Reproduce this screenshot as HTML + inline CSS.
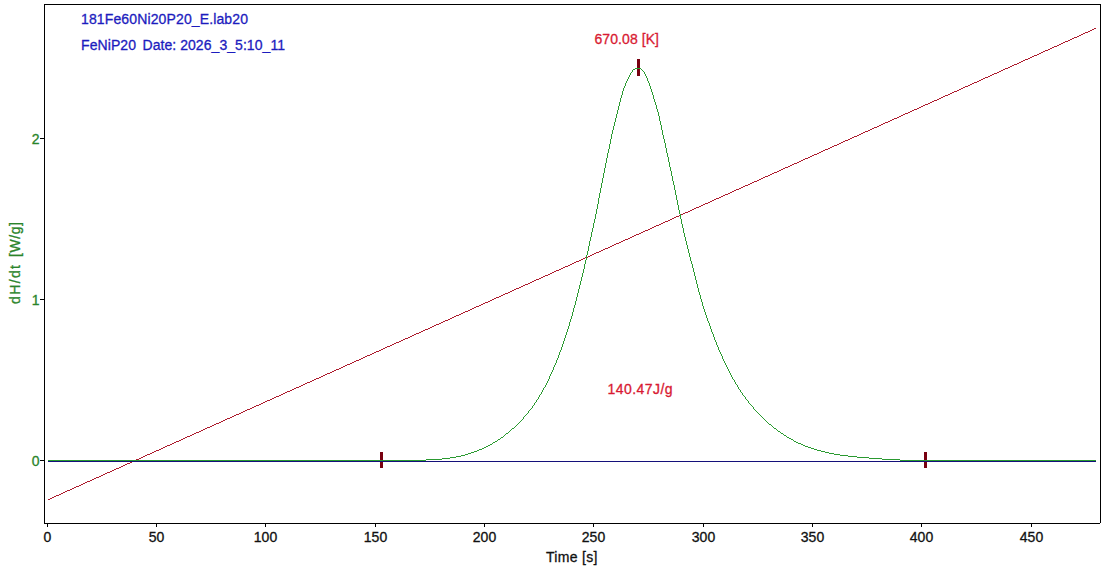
<!DOCTYPE html>
<html><head><meta charset="utf-8"><title>DSC</title>
<style>
html,body{margin:0;padding:0;background:#fff;overflow:hidden}
svg{display:block}
text{font-family:"Liberation Sans",sans-serif;font-size:14px;stroke-width:0.3px;paint-order:stroke}
</style></head><body>
<svg width="1104" height="568" viewBox="0 0 1104 568">
<rect width="1104" height="568" fill="#fff"/>
<g stroke="#000" stroke-width="1" shape-rendering="crispEdges" fill="none">
<path d="M44 4h1057v1h-1057zM44 5h1v519h-1zM45 523h1055v1h-1055zM1100 5h1v518h-1z" fill="#000" stroke="none"/>
<line x1="47.5" y1="523" x2="47.5" y2="527"/><line x1="156.5" y1="523" x2="156.5" y2="527"/><line x1="265.5" y1="523" x2="265.5" y2="527"/><line x1="375.5" y1="523" x2="375.5" y2="527"/><line x1="484.5" y1="523" x2="484.5" y2="527"/><line x1="593.5" y1="523" x2="593.5" y2="527"/><line x1="703.5" y1="523" x2="703.5" y2="527"/><line x1="812.5" y1="523" x2="812.5" y2="527"/><line x1="921.5" y1="523" x2="921.5" y2="527"/><line x1="1031.5" y1="523" x2="1031.5" y2="527"/>
<line x1="40" y1="138.5" x2="44" y2="138.5"/><line x1="40" y1="299.5" x2="44" y2="299.5"/><line x1="40" y1="460.5" x2="44" y2="460.5"/>
</g>
<g fill="#111" stroke="#111"><text x="47.5" y="542" text-anchor="middle">0</text><text x="156.5" y="542" text-anchor="middle">50</text><text x="265.5" y="542" text-anchor="middle">100</text><text x="375.5" y="542" text-anchor="middle">150</text><text x="484.5" y="542" text-anchor="middle">200</text><text x="593.5" y="542" text-anchor="middle">250</text><text x="703.5" y="542" text-anchor="middle">300</text><text x="812.5" y="542" text-anchor="middle">350</text><text x="921.5" y="542" text-anchor="middle">400</text><text x="1031.5" y="542" text-anchor="middle">450</text></g>
<g fill="#2a842a" stroke="#2a842a"><text x="39.5" y="143.5" text-anchor="end">2</text><text x="39.5" y="304.5" text-anchor="end">1</text><text x="39.5" y="465.5" text-anchor="end">0</text></g>
<g transform="translate(20,0) rotate(-90)" fill="#2a842a" stroke="#2a842a" style="font-size:15.5px"><text x="-304" y="0" textLength="39" lengthAdjust="spacing">dH/dt</text><text x="-257" y="0" textLength="35" lengthAdjust="spacing">[W/g]</text></g>
<text x="546" y="562" fill="#111" stroke="#111" textLength="51.5" lengthAdjust="spacing">Time [s]</text>
<g shape-rendering="crispEdges">
<rect x="380" y="452" width="3" height="16" fill="#780010"/>
<rect x="924" y="452" width="3" height="16" fill="#780010"/>
<rect x="637" y="59" width="3" height="17" fill="#780010"/>
<path d="M1094 28h2v1h-2zM1092 29h2v1h-2zM1090 30h2v1h-2zM1088 31h2v1h-2zM1085 32h3v1h-3zM1083 33h2v1h-2zM1081 34h2v1h-2zM1079 35h2v1h-2zM1077 36h2v1h-2zM1074 37h3v1h-3zM1072 38h2v1h-2zM1070 39h2v1h-2zM1068 40h2v1h-2zM1065 41h3v1h-3zM1063 42h2v1h-2zM1061 43h2v1h-2zM1059 44h2v1h-2zM1057 45h2v1h-2zM1054 46h3v1h-3zM1052 47h2v1h-2zM1050 48h2v1h-2zM1048 49h2v1h-2zM1045 50h3v1h-3zM1043 51h2v1h-2zM1041 52h2v1h-2zM1039 53h2v1h-2zM1037 54h2v1h-2zM1034 55h3v1h-3zM1032 56h2v1h-2zM1030 57h2v1h-2zM1028 58h2v1h-2zM1025 59h3v1h-3zM1023 60h2v1h-2zM1021 61h2v1h-2zM1019 62h2v1h-2zM1017 63h2v1h-2zM1014 64h3v1h-3zM1012 65h2v1h-2zM1010 66h2v1h-2zM1008 67h2v1h-2zM1005 68h3v1h-3zM1003 69h2v1h-2zM1001 70h2v1h-2zM999 71h2v1h-2zM997 72h2v1h-2zM994 73h3v1h-3zM992 74h2v1h-2zM990 75h2v1h-2zM988 76h2v1h-2zM985 77h3v1h-3zM983 78h2v1h-2zM981 79h2v1h-2zM979 80h2v1h-2zM977 81h2v1h-2zM974 82h3v1h-3zM972 83h2v1h-2zM970 84h2v1h-2zM968 85h2v1h-2zM965 86h3v1h-3zM963 87h2v1h-2zM961 88h2v1h-2zM959 89h2v1h-2zM957 90h2v1h-2zM954 91h3v1h-3zM952 92h2v1h-2zM950 93h2v1h-2zM948 94h2v1h-2zM945 95h3v1h-3zM943 96h2v1h-2zM941 97h2v1h-2zM939 98h2v1h-2zM937 99h2v1h-2zM934 100h3v1h-3zM932 101h2v1h-2zM930 102h2v1h-2zM928 103h2v1h-2zM925 104h3v1h-3zM923 105h2v1h-2zM921 106h2v1h-2zM919 107h2v1h-2zM917 108h2v1h-2zM914 109h3v1h-3zM912 110h2v1h-2zM910 111h2v1h-2zM908 112h2v1h-2zM905 113h3v1h-3zM903 114h2v1h-2zM901 115h2v1h-2zM899 116h2v1h-2zM897 117h2v1h-2zM894 118h3v1h-3zM892 119h2v1h-2zM890 120h2v1h-2zM888 121h2v1h-2zM885 122h3v1h-3zM883 123h2v1h-2zM881 124h2v1h-2zM879 125h2v1h-2zM877 126h2v1h-2zM874 127h3v1h-3zM872 128h2v1h-2zM870 129h2v1h-2zM868 130h2v1h-2zM865 131h3v1h-3zM863 132h2v1h-2zM861 133h2v1h-2zM859 134h2v1h-2zM857 135h2v1h-2zM854 136h3v1h-3zM852 137h2v1h-2zM850 138h2v1h-2zM848 139h2v1h-2zM845 140h3v1h-3zM843 141h2v1h-2zM841 142h2v1h-2zM839 143h2v1h-2zM837 144h2v1h-2zM834 145h3v1h-3zM832 146h2v1h-2zM830 147h2v1h-2zM828 148h2v1h-2zM825 149h3v1h-3zM823 150h2v1h-2zM821 151h2v1h-2zM819 152h2v1h-2zM817 153h2v1h-2zM814 154h3v1h-3zM812 155h2v1h-2zM810 156h2v1h-2zM808 157h2v1h-2zM805 158h3v1h-3zM803 159h2v1h-2zM801 160h2v1h-2zM799 161h2v1h-2zM797 162h2v1h-2zM794 163h3v1h-3zM792 164h2v1h-2zM790 165h2v1h-2zM788 166h2v1h-2zM785 167h3v1h-3zM783 168h2v1h-2zM781 169h2v1h-2zM779 170h2v1h-2zM777 171h2v1h-2zM774 172h3v1h-3zM772 173h2v1h-2zM770 174h2v1h-2zM768 175h2v1h-2zM765 176h3v1h-3zM763 177h2v1h-2zM761 178h2v1h-2zM759 179h2v1h-2zM757 180h2v1h-2zM754 181h3v1h-3zM752 182h2v1h-2zM750 183h2v1h-2zM748 184h2v1h-2zM745 185h3v1h-3zM743 186h2v1h-2zM741 187h2v1h-2zM739 188h2v1h-2zM736 189h3v1h-3zM734 190h2v1h-2zM732 191h2v1h-2zM730 192h2v1h-2zM728 193h2v1h-2zM725 194h3v1h-3zM723 195h2v1h-2zM721 196h2v1h-2zM719 197h2v1h-2zM716 198h3v1h-3zM714 199h2v1h-2zM712 200h2v1h-2zM710 201h2v1h-2zM708 202h2v1h-2zM705 203h3v1h-3zM703 204h2v1h-2zM701 205h2v1h-2zM699 206h2v1h-2zM696 207h3v1h-3zM694 208h2v1h-2zM692 209h2v1h-2zM690 210h2v1h-2zM688 211h2v1h-2zM685 212h3v1h-3zM683 213h2v1h-2zM681 214h2v1h-2zM679 215h2v1h-2zM676 216h3v1h-3zM674 217h2v1h-2zM672 218h2v1h-2zM670 219h2v1h-2zM668 220h2v1h-2zM665 221h3v1h-3zM663 222h2v1h-2zM661 223h2v1h-2zM659 224h2v1h-2zM656 225h3v1h-3zM654 226h2v1h-2zM652 227h2v1h-2zM650 228h2v1h-2zM648 229h2v1h-2zM645 230h3v1h-3zM643 231h2v1h-2zM641 232h2v1h-2zM639 233h2v1h-2zM636 234h3v1h-3zM634 235h2v1h-2zM632 236h2v1h-2zM630 237h2v1h-2zM628 238h2v1h-2zM625 239h3v1h-3zM623 240h2v1h-2zM621 241h2v1h-2zM619 242h2v1h-2zM616 243h3v1h-3zM614 244h2v1h-2zM612 245h2v1h-2zM610 246h2v1h-2zM608 247h2v1h-2zM605 248h3v1h-3zM603 249h2v1h-2zM601 250h2v1h-2zM599 251h2v1h-2zM596 252h3v1h-3zM594 253h2v1h-2zM592 254h2v1h-2zM590 255h2v1h-2zM588 256h2v1h-2zM585 257h3v1h-3zM583 258h2v1h-2zM581 259h2v1h-2zM579 260h2v1h-2zM576 261h3v1h-3zM574 262h2v1h-2zM572 263h2v1h-2zM570 264h2v1h-2zM568 265h2v1h-2zM565 266h3v1h-3zM563 267h2v1h-2zM561 268h2v1h-2zM559 269h2v1h-2zM556 270h3v1h-3zM554 271h2v1h-2zM552 272h2v1h-2zM550 273h2v1h-2zM548 274h2v1h-2zM545 275h3v1h-3zM543 276h2v1h-2zM541 277h2v1h-2zM539 278h2v1h-2zM536 279h3v1h-3zM534 280h2v1h-2zM532 281h2v1h-2zM530 282h2v1h-2zM528 283h2v1h-2zM525 284h3v1h-3zM523 285h2v1h-2zM521 286h2v1h-2zM519 287h2v1h-2zM516 288h3v1h-3zM514 289h2v1h-2zM512 290h2v1h-2zM510 291h2v1h-2zM508 292h2v1h-2zM505 293h3v1h-3zM503 294h2v1h-2zM501 295h2v1h-2zM499 296h2v1h-2zM496 297h3v1h-3zM494 298h2v1h-2zM492 299h2v1h-2zM490 300h2v1h-2zM488 301h2v1h-2zM485 302h3v1h-3zM483 303h2v1h-2zM481 304h2v1h-2zM479 305h2v1h-2zM476 306h3v1h-3zM474 307h2v1h-2zM472 308h2v1h-2zM470 309h2v1h-2zM468 310h2v1h-2zM465 311h3v1h-3zM463 312h2v1h-2zM461 313h2v1h-2zM459 314h2v1h-2zM456 315h3v1h-3zM454 316h2v1h-2zM452 317h2v1h-2zM450 318h2v1h-2zM448 319h2v1h-2zM445 320h3v1h-3zM443 321h2v1h-2zM441 322h2v1h-2zM439 323h2v1h-2zM436 324h3v1h-3zM434 325h2v1h-2zM432 326h2v1h-2zM430 327h2v1h-2zM428 328h2v1h-2zM425 329h3v1h-3zM423 330h2v1h-2zM421 331h2v1h-2zM419 332h2v1h-2zM416 333h3v1h-3zM414 334h2v1h-2zM412 335h2v1h-2zM410 336h2v1h-2zM408 337h2v1h-2zM405 338h3v1h-3zM403 339h2v1h-2zM401 340h2v1h-2zM399 341h2v1h-2zM396 342h3v1h-3zM394 343h2v1h-2zM392 344h2v1h-2zM390 345h2v1h-2zM387 346h3v1h-3zM385 347h2v1h-2zM383 348h2v1h-2zM381 349h2v1h-2zM379 350h2v1h-2zM376 351h3v1h-3zM374 352h2v1h-2zM372 353h2v1h-2zM370 354h2v1h-2zM367 355h3v1h-3zM365 356h2v1h-2zM363 357h2v1h-2zM361 358h2v1h-2zM359 359h2v1h-2zM356 360h3v1h-3zM354 361h2v1h-2zM352 362h2v1h-2zM350 363h2v1h-2zM347 364h3v1h-3zM345 365h2v1h-2zM343 366h2v1h-2zM341 367h2v1h-2zM339 368h2v1h-2zM336 369h3v1h-3zM334 370h2v1h-2zM332 371h2v1h-2zM330 372h2v1h-2zM327 373h3v1h-3zM325 374h2v1h-2zM323 375h2v1h-2zM321 376h2v1h-2zM319 377h2v1h-2zM316 378h3v1h-3zM314 379h2v1h-2zM312 380h2v1h-2zM310 381h2v1h-2zM307 382h3v1h-3zM305 383h2v1h-2zM303 384h2v1h-2zM301 385h2v1h-2zM299 386h2v1h-2zM296 387h3v1h-3zM294 388h2v1h-2zM292 389h2v1h-2zM290 390h2v1h-2zM287 391h3v1h-3zM285 392h2v1h-2zM283 393h2v1h-2zM281 394h2v1h-2zM279 395h2v1h-2zM276 396h3v1h-3zM274 397h2v1h-2zM272 398h2v1h-2zM270 399h2v1h-2zM267 400h3v1h-3zM265 401h2v1h-2zM263 402h2v1h-2zM261 403h2v1h-2zM259 404h2v1h-2zM256 405h3v1h-3zM254 406h2v1h-2zM252 407h2v1h-2zM250 408h2v1h-2zM247 409h3v1h-3zM245 410h2v1h-2zM243 411h2v1h-2zM241 412h2v1h-2zM239 413h2v1h-2zM236 414h3v1h-3zM234 415h2v1h-2zM232 416h2v1h-2zM230 417h2v1h-2zM227 418h3v1h-3zM225 419h2v1h-2zM223 420h2v1h-2zM221 421h2v1h-2zM219 422h2v1h-2zM216 423h3v1h-3zM214 424h2v1h-2zM212 425h2v1h-2zM210 426h2v1h-2zM207 427h3v1h-3zM205 428h2v1h-2zM203 429h2v1h-2zM201 430h2v1h-2zM199 431h2v1h-2zM196 432h3v1h-3zM194 433h2v1h-2zM192 434h2v1h-2zM190 435h2v1h-2zM187 436h3v1h-3zM185 437h2v1h-2zM183 438h2v1h-2zM181 439h2v1h-2zM179 440h2v1h-2zM176 441h3v1h-3zM174 442h2v1h-2zM172 443h2v1h-2zM170 444h2v1h-2zM167 445h3v1h-3zM165 446h2v1h-2zM163 447h2v1h-2zM161 448h2v1h-2zM159 449h2v1h-2zM156 450h3v1h-3zM154 451h2v1h-2zM152 452h2v1h-2zM150 453h2v1h-2zM147 454h3v1h-3zM145 455h2v1h-2zM143 456h2v1h-2zM141 457h2v1h-2zM139 458h2v1h-2zM136 459h3v1h-3zM134 460h2v1h-2zM132 461h2v1h-2zM130 462h2v1h-2zM127 463h3v1h-3zM125 464h2v1h-2zM123 465h2v1h-2zM121 466h2v1h-2zM119 467h2v1h-2zM116 468h3v1h-3zM114 469h2v1h-2zM112 470h2v1h-2zM110 471h2v1h-2zM107 472h3v1h-3zM105 473h2v1h-2zM103 474h2v1h-2zM101 475h2v1h-2zM99 476h2v1h-2zM96 477h3v1h-3zM94 478h2v1h-2zM92 479h2v1h-2zM90 480h2v1h-2zM87 481h3v1h-3zM85 482h2v1h-2zM83 483h2v1h-2zM81 484h2v1h-2zM79 485h2v1h-2zM76 486h3v1h-3zM74 487h2v1h-2zM72 488h2v1h-2zM70 489h2v1h-2zM67 490h3v1h-3zM65 491h2v1h-2zM63 492h2v1h-2zM61 493h2v1h-2zM59 494h2v1h-2zM56 495h3v1h-3zM54 496h2v1h-2zM52 497h2v1h-2zM50 498h2v1h-2zM48 499h2v1h-2z" fill="#ac1a2c"/>
<rect x="48" y="461" width="1048" height="1" fill="#14107a"/>
<path d="M635 68h6v1h-6zM633 69h2v1h-2zM641 69h1v1h-1zM632 70h1v1h-1zM642 70h1v1h-1zM632 71h1v1h-1zM643 71h1v1h-1zM631 72h1v1h-1zM644 72h1v1h-1zM630 73h1v1h-1zM644 73h1v1h-1zM630 74h1v1h-1zM645 74h1v1h-1zM629 75h1v1h-1zM645 75h1v1h-1zM629 76h1v1h-1zM646 76h1v1h-1zM628 77h1v1h-1zM646 77h1v1h-1zM628 78h1v1h-1zM647 78h1v1h-1zM627 79h1v1h-1zM647 79h1v1h-1zM627 80h1v1h-1zM647 80h1v1h-1zM626 81h1v1h-1zM648 81h1v1h-1zM626 82h1v1h-1zM648 82h1v1h-1zM625 83h1v1h-1zM649 83h1v1h-1zM625 84h1v1h-1zM649 84h1v1h-1zM625 85h1v1h-1zM649 85h1v1h-1zM624 86h1v1h-1zM650 86h1v1h-1zM624 87h1v1h-1zM650 87h1v1h-1zM623 88h1v1h-1zM650 88h1v1h-1zM623 89h1v1h-1zM651 89h1v1h-1zM623 90h1v1h-1zM651 90h1v1h-1zM622 91h1v1h-1zM651 91h1v1h-1zM622 92h1v1h-1zM652 92h1v1h-1zM622 93h1v1h-1zM652 93h1v1h-1zM622 94h1v1h-1zM652 94h1v1h-1zM621 95h1v1h-1zM653 95h1v1h-1zM621 96h1v1h-1zM653 96h1v1h-1zM621 97h1v1h-1zM653 97h1v1h-1zM620 98h1v1h-1zM653 98h1v1h-1zM620 99h1v1h-1zM654 99h1v1h-1zM620 100h1v1h-1zM654 100h1v1h-1zM620 101h1v1h-1zM654 101h1v1h-1zM619 102h1v1h-1zM655 102h1v1h-1zM619 103h1v1h-1zM655 103h1v1h-1zM619 104h1v1h-1zM655 104h1v1h-1zM619 105h1v1h-1zM656 105h1v1h-1zM618 106h1v1h-1zM656 106h1v1h-1zM618 107h1v1h-1zM656 107h1v1h-1zM618 108h1v1h-1zM656 108h1v1h-1zM618 109h1v1h-1zM657 109h1v1h-1zM617 110h1v1h-1zM657 110h1v1h-1zM617 111h1v1h-1zM657 111h1v1h-1zM617 112h1v1h-1zM658 112h1v1h-1zM617 113h1v1h-1zM658 113h1v1h-1zM616 114h1v1h-1zM658 114h1v1h-1zM616 115h1v1h-1zM658 115h1v1h-1zM616 116h1v1h-1zM659 116h1v1h-1zM616 117h1v1h-1zM659 117h1v1h-1zM615 118h1v1h-1zM659 118h1v1h-1zM615 119h1v1h-1zM659 119h1v1h-1zM615 120h1v1h-1zM659 120h1v1h-1zM615 121h1v1h-1zM660 121h1v1h-1zM614 122h1v1h-1zM660 122h1v1h-1zM614 123h1v1h-1zM660 123h1v1h-1zM614 124h1v1h-1zM660 124h1v1h-1zM614 125h1v1h-1zM661 125h1v1h-1zM613 126h1v1h-1zM661 126h1v1h-1zM613 127h1v1h-1zM661 127h1v1h-1zM613 128h1v1h-1zM661 128h1v1h-1zM613 129h1v1h-1zM661 129h1v1h-1zM612 130h1v1h-1zM662 130h1v1h-1zM612 131h1v1h-1zM662 131h1v1h-1zM612 132h1v1h-1zM662 132h1v1h-1zM612 133h1v1h-1zM662 133h1v1h-1zM611 134h1v1h-1zM662 134h1v1h-1zM611 135h1v1h-1zM663 135h1v1h-1zM611 136h1v1h-1zM663 136h1v1h-1zM611 137h1v1h-1zM663 137h1v1h-1zM611 138h1v1h-1zM663 138h1v1h-1zM610 139h1v1h-1zM664 139h1v1h-1zM610 140h1v1h-1zM664 140h1v1h-1zM610 141h1v1h-1zM664 141h1v1h-1zM610 142h1v1h-1zM664 142h1v1h-1zM610 143h1v1h-1zM665 143h1v1h-1zM609 144h1v1h-1zM665 144h1v1h-1zM609 145h1v1h-1zM665 145h1v1h-1zM609 146h1v1h-1zM665 146h1v1h-1zM609 147h1v1h-1zM665 147h1v1h-1zM609 148h1v1h-1zM666 148h1v1h-1zM608 149h1v1h-1zM666 149h1v1h-1zM608 150h1v1h-1zM666 150h1v1h-1zM608 151h1v1h-1zM666 151h1v1h-1zM608 152h1v1h-1zM666 152h1v1h-1zM607 153h1v1h-1zM667 153h1v1h-1zM607 154h1v1h-1zM667 154h1v1h-1zM607 155h1v1h-1zM667 155h1v1h-1zM607 156h1v1h-1zM667 156h1v1h-1zM607 157h1v1h-1zM668 157h1v1h-1zM606 158h1v1h-1zM668 158h1v1h-1zM606 159h1v1h-1zM668 159h1v1h-1zM606 160h1v1h-1zM668 160h1v1h-1zM606 161h1v1h-1zM668 161h1v1h-1zM606 162h1v1h-1zM669 162h1v1h-1zM605 163h1v1h-1zM669 163h1v1h-1zM605 164h1v1h-1zM669 164h1v1h-1zM605 165h1v1h-1zM669 165h1v1h-1zM605 166h1v1h-1zM669 166h1v1h-1zM605 167h1v1h-1zM670 167h1v1h-1zM604 168h1v1h-1zM670 168h1v1h-1zM604 169h1v1h-1zM670 169h1v1h-1zM604 170h1v1h-1zM670 170h1v1h-1zM604 171h1v1h-1zM671 171h1v1h-1zM604 172h1v1h-1zM671 172h1v1h-1zM603 173h1v1h-1zM671 173h1v1h-1zM603 174h1v1h-1zM671 174h1v1h-1zM603 175h1v1h-1zM671 175h1v1h-1zM603 176h1v1h-1zM672 176h1v1h-1zM603 177h1v1h-1zM672 177h1v1h-1zM602 178h1v1h-1zM672 178h1v1h-1zM602 179h1v1h-1zM672 179h1v1h-1zM602 180h1v1h-1zM672 180h1v1h-1zM602 181h1v1h-1zM673 181h1v1h-1zM602 182h1v1h-1zM673 182h1v1h-1zM601 183h1v1h-1zM673 183h1v1h-1zM601 184h1v1h-1zM673 184h1v1h-1zM601 185h1v1h-1zM674 185h1v1h-1zM601 186h1v1h-1zM674 186h1v1h-1zM601 187h1v1h-1zM674 187h1v1h-1zM600 188h1v1h-1zM674 188h1v1h-1zM600 189h1v1h-1zM674 189h1v1h-1zM600 190h1v1h-1zM675 190h1v1h-1zM600 191h1v1h-1zM675 191h1v1h-1zM600 192h1v1h-1zM675 192h1v1h-1zM599 193h1v1h-1zM675 193h1v1h-1zM599 194h1v1h-1zM675 194h1v1h-1zM599 195h1v1h-1zM676 195h1v1h-1zM599 196h1v1h-1zM676 196h1v1h-1zM599 197h1v1h-1zM676 197h1v1h-1zM598 198h1v1h-1zM676 198h1v1h-1zM598 199h1v1h-1zM676 199h1v1h-1zM598 200h1v1h-1zM677 200h1v1h-1zM598 201h1v1h-1zM677 201h1v1h-1zM598 202h1v1h-1zM677 202h1v1h-1zM598 203h1v1h-1zM677 203h1v1h-1zM597 204h1v1h-1zM677 204h1v1h-1zM597 205h1v1h-1zM678 205h1v1h-1zM597 206h1v1h-1zM678 206h1v1h-1zM597 207h1v1h-1zM678 207h1v1h-1zM597 208h1v1h-1zM678 208h1v1h-1zM596 209h1v1h-1zM678 209h1v1h-1zM596 210h1v1h-1zM679 210h1v1h-1zM596 211h1v1h-1zM679 211h1v1h-1zM596 212h1v1h-1zM679 212h1v1h-1zM596 213h1v1h-1zM679 213h1v1h-1zM595 214h1v1h-1zM680 214h1v1h-1zM595 215h1v1h-1zM680 215h1v1h-1zM595 216h1v1h-1zM680 216h1v1h-1zM595 217h1v1h-1zM680 217h1v1h-1zM595 218h1v1h-1zM680 218h1v1h-1zM594 219h1v1h-1zM681 219h1v1h-1zM594 220h1v1h-1zM681 220h1v1h-1zM594 221h1v1h-1zM681 221h1v1h-1zM594 222h1v1h-1zM681 222h1v1h-1zM593 223h1v1h-1zM681 223h1v1h-1zM593 224h1v1h-1zM682 224h1v1h-1zM593 225h1v1h-1zM682 225h1v1h-1zM593 226h1v1h-1zM682 226h1v1h-1zM593 227h1v1h-1zM682 227h1v1h-1zM592 228h1v1h-1zM683 228h1v1h-1zM592 229h1v1h-1zM683 229h1v1h-1zM592 230h1v1h-1zM683 230h1v1h-1zM592 231h1v1h-1zM683 231h1v1h-1zM591 232h1v1h-1zM683 232h1v1h-1zM591 233h1v1h-1zM684 233h1v1h-1zM591 234h1v1h-1zM684 234h1v1h-1zM591 235h1v1h-1zM684 235h1v1h-1zM591 236h1v1h-1zM684 236h1v1h-1zM590 237h1v1h-1zM685 237h1v1h-1zM590 238h1v1h-1zM685 238h1v1h-1zM590 239h1v1h-1zM685 239h1v1h-1zM590 240h1v1h-1zM685 240h1v1h-1zM589 241h1v1h-1zM686 241h1v1h-1zM589 242h1v1h-1zM686 242h1v1h-1zM589 243h1v1h-1zM686 243h1v1h-1zM589 244h1v1h-1zM686 244h1v1h-1zM589 245h1v1h-1zM687 245h1v1h-1zM588 246h1v1h-1zM687 246h1v1h-1zM588 247h1v1h-1zM687 247h1v1h-1zM588 248h1v1h-1zM687 248h1v1h-1zM588 249h1v1h-1zM688 249h1v1h-1zM588 250h1v1h-1zM688 250h1v1h-1zM587 251h1v1h-1zM688 251h1v1h-1zM587 252h1v1h-1zM688 252h1v1h-1zM587 253h1v1h-1zM689 253h1v1h-1zM587 254h1v1h-1zM689 254h1v1h-1zM586 255h1v1h-1zM689 255h1v1h-1zM586 256h1v1h-1zM689 256h1v1h-1zM586 257h1v1h-1zM690 257h1v1h-1zM586 258h1v1h-1zM690 258h1v1h-1zM586 259h1v1h-1zM690 259h1v1h-1zM585 260h1v1h-1zM690 260h1v1h-1zM585 261h1v1h-1zM691 261h1v1h-1zM585 262h1v1h-1zM691 262h1v1h-1zM585 263h1v1h-1zM691 263h1v1h-1zM584 264h1v1h-1zM692 264h1v1h-1zM584 265h1v1h-1zM692 265h1v1h-1zM584 266h1v1h-1zM692 266h1v1h-1zM584 267h1v1h-1zM692 267h1v1h-1zM584 268h1v1h-1zM693 268h1v1h-1zM583 269h1v1h-1zM693 269h1v1h-1zM583 270h1v1h-1zM693 270h1v1h-1zM583 271h1v1h-1zM693 271h1v1h-1zM583 272h1v1h-1zM694 272h1v1h-1zM582 273h1v1h-1zM694 273h1v1h-1zM582 274h1v1h-1zM694 274h1v1h-1zM582 275h1v1h-1zM694 275h1v1h-1zM582 276h1v1h-1zM695 276h1v1h-1zM581 277h1v1h-1zM695 277h1v1h-1zM581 278h1v1h-1zM695 278h1v1h-1zM581 279h1v1h-1zM695 279h1v1h-1zM581 280h1v1h-1zM696 280h1v1h-1zM580 281h1v1h-1zM696 281h1v1h-1zM580 282h1v1h-1zM696 282h1v1h-1zM580 283h1v1h-1zM696 283h1v1h-1zM580 284h1v1h-1zM697 284h1v1h-1zM579 285h1v1h-1zM697 285h1v1h-1zM579 286h1v1h-1zM697 286h1v1h-1zM579 287h1v1h-1zM697 287h1v1h-1zM579 288h1v1h-1zM698 288h1v1h-1zM578 289h1v1h-1zM698 289h1v1h-1zM578 290h1v1h-1zM698 290h1v1h-1zM578 291h1v1h-1zM698 291h1v1h-1zM578 292h1v1h-1zM699 292h1v1h-1zM577 293h1v1h-1zM699 293h1v1h-1zM577 294h1v1h-1zM699 294h1v1h-1zM577 295h1v1h-1zM700 295h1v1h-1zM577 296h1v1h-1zM700 296h1v1h-1zM576 297h1v1h-1zM700 297h1v1h-1zM576 298h1v1h-1zM700 298h1v1h-1zM576 299h1v1h-1zM701 299h1v1h-1zM576 300h1v1h-1zM701 300h1v1h-1zM575 301h1v1h-1zM701 301h1v1h-1zM575 302h1v1h-1zM702 302h1v1h-1zM575 303h1v1h-1zM702 303h1v1h-1zM575 304h1v1h-1zM702 304h1v1h-1zM574 305h1v1h-1zM702 305h1v1h-1zM574 306h1v1h-1zM703 306h1v1h-1zM574 307h1v1h-1zM703 307h1v1h-1zM573 308h1v1h-1zM703 308h1v1h-1zM573 309h1v1h-1zM704 309h1v1h-1zM573 310h1v1h-1zM704 310h1v1h-1zM573 311h1v1h-1zM704 311h1v1h-1zM572 312h1v1h-1zM705 312h1v1h-1zM572 313h1v1h-1zM705 313h1v1h-1zM572 314h1v1h-1zM705 314h1v1h-1zM572 315h1v1h-1zM706 315h1v1h-1zM571 316h1v1h-1zM706 316h1v1h-1zM571 317h1v1h-1zM706 317h1v1h-1zM571 318h1v1h-1zM707 318h1v1h-1zM570 319h1v1h-1zM707 319h1v1h-1zM570 320h1v1h-1zM707 320h1v1h-1zM570 321h1v1h-1zM708 321h1v1h-1zM569 322h1v1h-1zM708 322h1v1h-1zM569 323h1v1h-1zM709 323h1v1h-1zM569 324h1v1h-1zM709 324h1v1h-1zM569 325h1v1h-1zM709 325h1v1h-1zM568 326h1v1h-1zM710 326h1v1h-1zM568 327h1v1h-1zM710 327h1v1h-1zM568 328h1v1h-1zM710 328h1v1h-1zM567 329h1v1h-1zM711 329h1v1h-1zM567 330h1v1h-1zM711 330h1v1h-1zM567 331h1v1h-1zM711 331h1v1h-1zM566 332h1v1h-1zM712 332h1v1h-1zM566 333h1v1h-1zM712 333h1v1h-1zM566 334h1v1h-1zM713 334h1v1h-1zM565 335h1v1h-1zM713 335h1v1h-1zM565 336h1v1h-1zM713 336h1v1h-1zM565 337h1v1h-1zM714 337h1v1h-1zM564 338h1v1h-1zM714 338h1v1h-1zM564 339h1v1h-1zM714 339h1v1h-1zM564 340h1v1h-1zM715 340h1v1h-1zM563 341h1v1h-1zM715 341h1v1h-1zM563 342h1v1h-1zM716 342h1v1h-1zM563 343h1v1h-1zM716 343h1v1h-1zM562 344h1v1h-1zM716 344h1v1h-1zM562 345h1v1h-1zM717 345h1v1h-1zM562 346h1v1h-1zM717 346h1v1h-1zM561 347h1v1h-1zM718 347h1v1h-1zM561 348h1v1h-1zM718 348h1v1h-1zM561 349h1v1h-1zM718 349h1v1h-1zM560 350h1v1h-1zM719 350h1v1h-1zM560 351h1v1h-1zM719 351h1v1h-1zM559 352h1v1h-1zM720 352h1v1h-1zM559 353h1v1h-1zM720 353h1v1h-1zM559 354h1v1h-1zM721 354h1v1h-1zM558 355h1v1h-1zM721 355h1v1h-1zM558 356h1v1h-1zM722 356h1v1h-1zM558 357h1v1h-1zM722 357h1v1h-1zM557 358h1v1h-1zM722 358h1v1h-1zM557 359h1v1h-1zM723 359h1v1h-1zM556 360h1v1h-1zM723 360h1v1h-1zM556 361h1v1h-1zM724 361h1v1h-1zM556 362h1v1h-1zM724 362h1v1h-1zM555 363h1v1h-1zM725 363h1v1h-1zM555 364h1v1h-1zM725 364h1v1h-1zM554 365h1v1h-1zM726 365h1v1h-1zM554 366h1v1h-1zM726 366h1v1h-1zM553 367h1v1h-1zM727 367h1v1h-1zM553 368h1v1h-1zM727 368h1v1h-1zM553 369h1v1h-1zM728 369h1v1h-1zM552 370h1v1h-1zM728 370h1v1h-1zM552 371h1v1h-1zM729 371h1v1h-1zM551 372h1v1h-1zM729 372h1v1h-1zM551 373h1v1h-1zM730 373h1v1h-1zM550 374h1v1h-1zM730 374h1v1h-1zM550 375h1v1h-1zM731 375h1v1h-1zM549 376h1v1h-1zM731 376h1v1h-1zM549 377h1v1h-1zM732 377h1v1h-1zM549 378h1v1h-1zM732 378h1v1h-1zM548 379h1v1h-1zM733 379h1v1h-1zM548 380h1v1h-1zM734 380h1v1h-1zM547 381h1v1h-1zM734 381h1v1h-1zM547 382h1v1h-1zM735 382h1v1h-1zM546 383h1v1h-1zM735 383h1v1h-1zM546 384h1v1h-1zM736 384h1v1h-1zM545 385h1v1h-1zM737 385h1v1h-1zM545 386h1v1h-1zM737 386h1v1h-1zM544 387h1v1h-1zM738 387h1v1h-1zM543 388h1v1h-1zM738 388h1v1h-1zM543 389h1v1h-1zM739 389h1v1h-1zM542 390h1v1h-1zM740 390h1v1h-1zM542 391h1v1h-1zM740 391h1v1h-1zM541 392h1v1h-1zM741 392h1v1h-1zM541 393h1v1h-1zM742 393h1v1h-1zM540 394h1v1h-1zM742 394h1v1h-1zM539 395h1v1h-1zM743 395h1v1h-1zM539 396h1v1h-1zM744 396h1v1h-1zM538 397h1v1h-1zM745 397h1v1h-1zM538 398h1v1h-1zM745 398h1v1h-1zM537 399h1v1h-1zM746 399h1v1h-1zM536 400h1v1h-1zM747 400h1v1h-1zM536 401h1v1h-1zM748 401h1v1h-1zM535 402h1v1h-1zM748 402h1v1h-1zM534 403h1v1h-1zM749 403h1v1h-1zM534 404h1v1h-1zM750 404h1v1h-1zM533 405h1v1h-1zM751 405h1v1h-1zM532 406h1v1h-1zM752 406h1v1h-1zM532 407h1v1h-1zM753 407h1v1h-1zM531 408h1v1h-1zM753 408h1v1h-1zM530 409h1v1h-1zM754 409h1v1h-1zM529 410h1v1h-1zM755 410h1v1h-1zM528 411h1v1h-1zM756 411h1v1h-1zM528 412h1v1h-1zM757 412h1v1h-1zM527 413h1v1h-1zM758 413h1v1h-1zM526 414h1v1h-1zM759 414h1v1h-1zM525 415h1v1h-1zM760 415h1v1h-1zM524 416h1v1h-1zM761 416h1v1h-1zM523 417h1v1h-1zM762 417h1v1h-1zM523 418h1v1h-1zM763 418h1v1h-1zM522 419h1v1h-1zM764 419h1v1h-1zM521 420h1v1h-1zM765 420h1v1h-1zM520 421h1v1h-1zM766 421h1v1h-1zM519 422h1v1h-1zM767 422h1v1h-1zM518 423h1v1h-1zM768 423h1v1h-1zM517 424h1v1h-1zM769 424h2v1h-2zM516 425h1v1h-1zM771 425h1v1h-1zM515 426h1v1h-1zM772 426h1v1h-1zM514 427h1v1h-1zM773 427h1v1h-1zM512 428h2v1h-2zM774 428h2v1h-2zM511 429h1v1h-1zM776 429h1v1h-1zM510 430h1v1h-1zM777 430h1v1h-1zM509 431h1v1h-1zM778 431h2v1h-2zM508 432h1v1h-1zM780 432h1v1h-1zM506 433h2v1h-2zM781 433h2v1h-2zM505 434h1v1h-1zM783 434h1v1h-1zM504 435h1v1h-1zM784 435h2v1h-2zM503 436h1v1h-1zM786 436h1v1h-1zM501 437h2v1h-2zM787 437h2v1h-2zM500 438h1v1h-1zM789 438h2v1h-2zM498 439h2v1h-2zM791 439h2v1h-2zM497 440h1v1h-1zM793 440h1v1h-1zM495 441h2v1h-2zM794 441h2v1h-2zM493 442h2v1h-2zM796 442h2v1h-2zM492 443h1v1h-1zM798 443h3v1h-3zM490 444h2v1h-2zM801 444h2v1h-2zM488 445h2v1h-2zM803 445h2v1h-2zM486 446h2v1h-2zM805 446h3v1h-3zM484 447h2v1h-2zM808 447h3v1h-3zM482 448h2v1h-2zM811 448h3v1h-3zM479 449h3v1h-3zM814 449h3v1h-3zM477 450h2v1h-2zM817 450h4v1h-4zM474 451h3v1h-3zM821 451h4v1h-4zM471 452h3v1h-3zM825 452h4v1h-4zM468 453h3v1h-3zM829 453h5v1h-5zM465 454h3v1h-3zM834 454h6v1h-6zM461 455h4v1h-4zM840 455h8v1h-8zM456 456h5v1h-5zM848 456h9v1h-9zM450 457h6v1h-6zM857 457h12v1h-12zM442 458h8v1h-8zM869 458h13v1h-13zM426 459h16v1h-16zM882 459h18v1h-18zM48 460h378v1h-378zM900 460h196v1h-196z" fill="#2a9a30"/>
</g>
<g fill="#1c1cbe" stroke="#1c1cbe">
<text x="81" y="24" textLength="167" lengthAdjust="spacing">181Fe60Ni20P20_E.lab20</text>
<text x="81" y="50" textLength="55" lengthAdjust="spacing">FeNiP20</text>
<text x="142.5" y="50" textLength="142.5" lengthAdjust="spacing">Date: 2026_3_5:10_11</text>
</g>
<g fill="#d81a32" stroke="#d81a32">
<text x="594.5" y="44" textLength="64.5" lengthAdjust="spacing">670.08 [K]</text>
<text x="607.5" y="394" textLength="65" lengthAdjust="spacing">140.47J/g</text>
</g>
</svg>
</body></html>
